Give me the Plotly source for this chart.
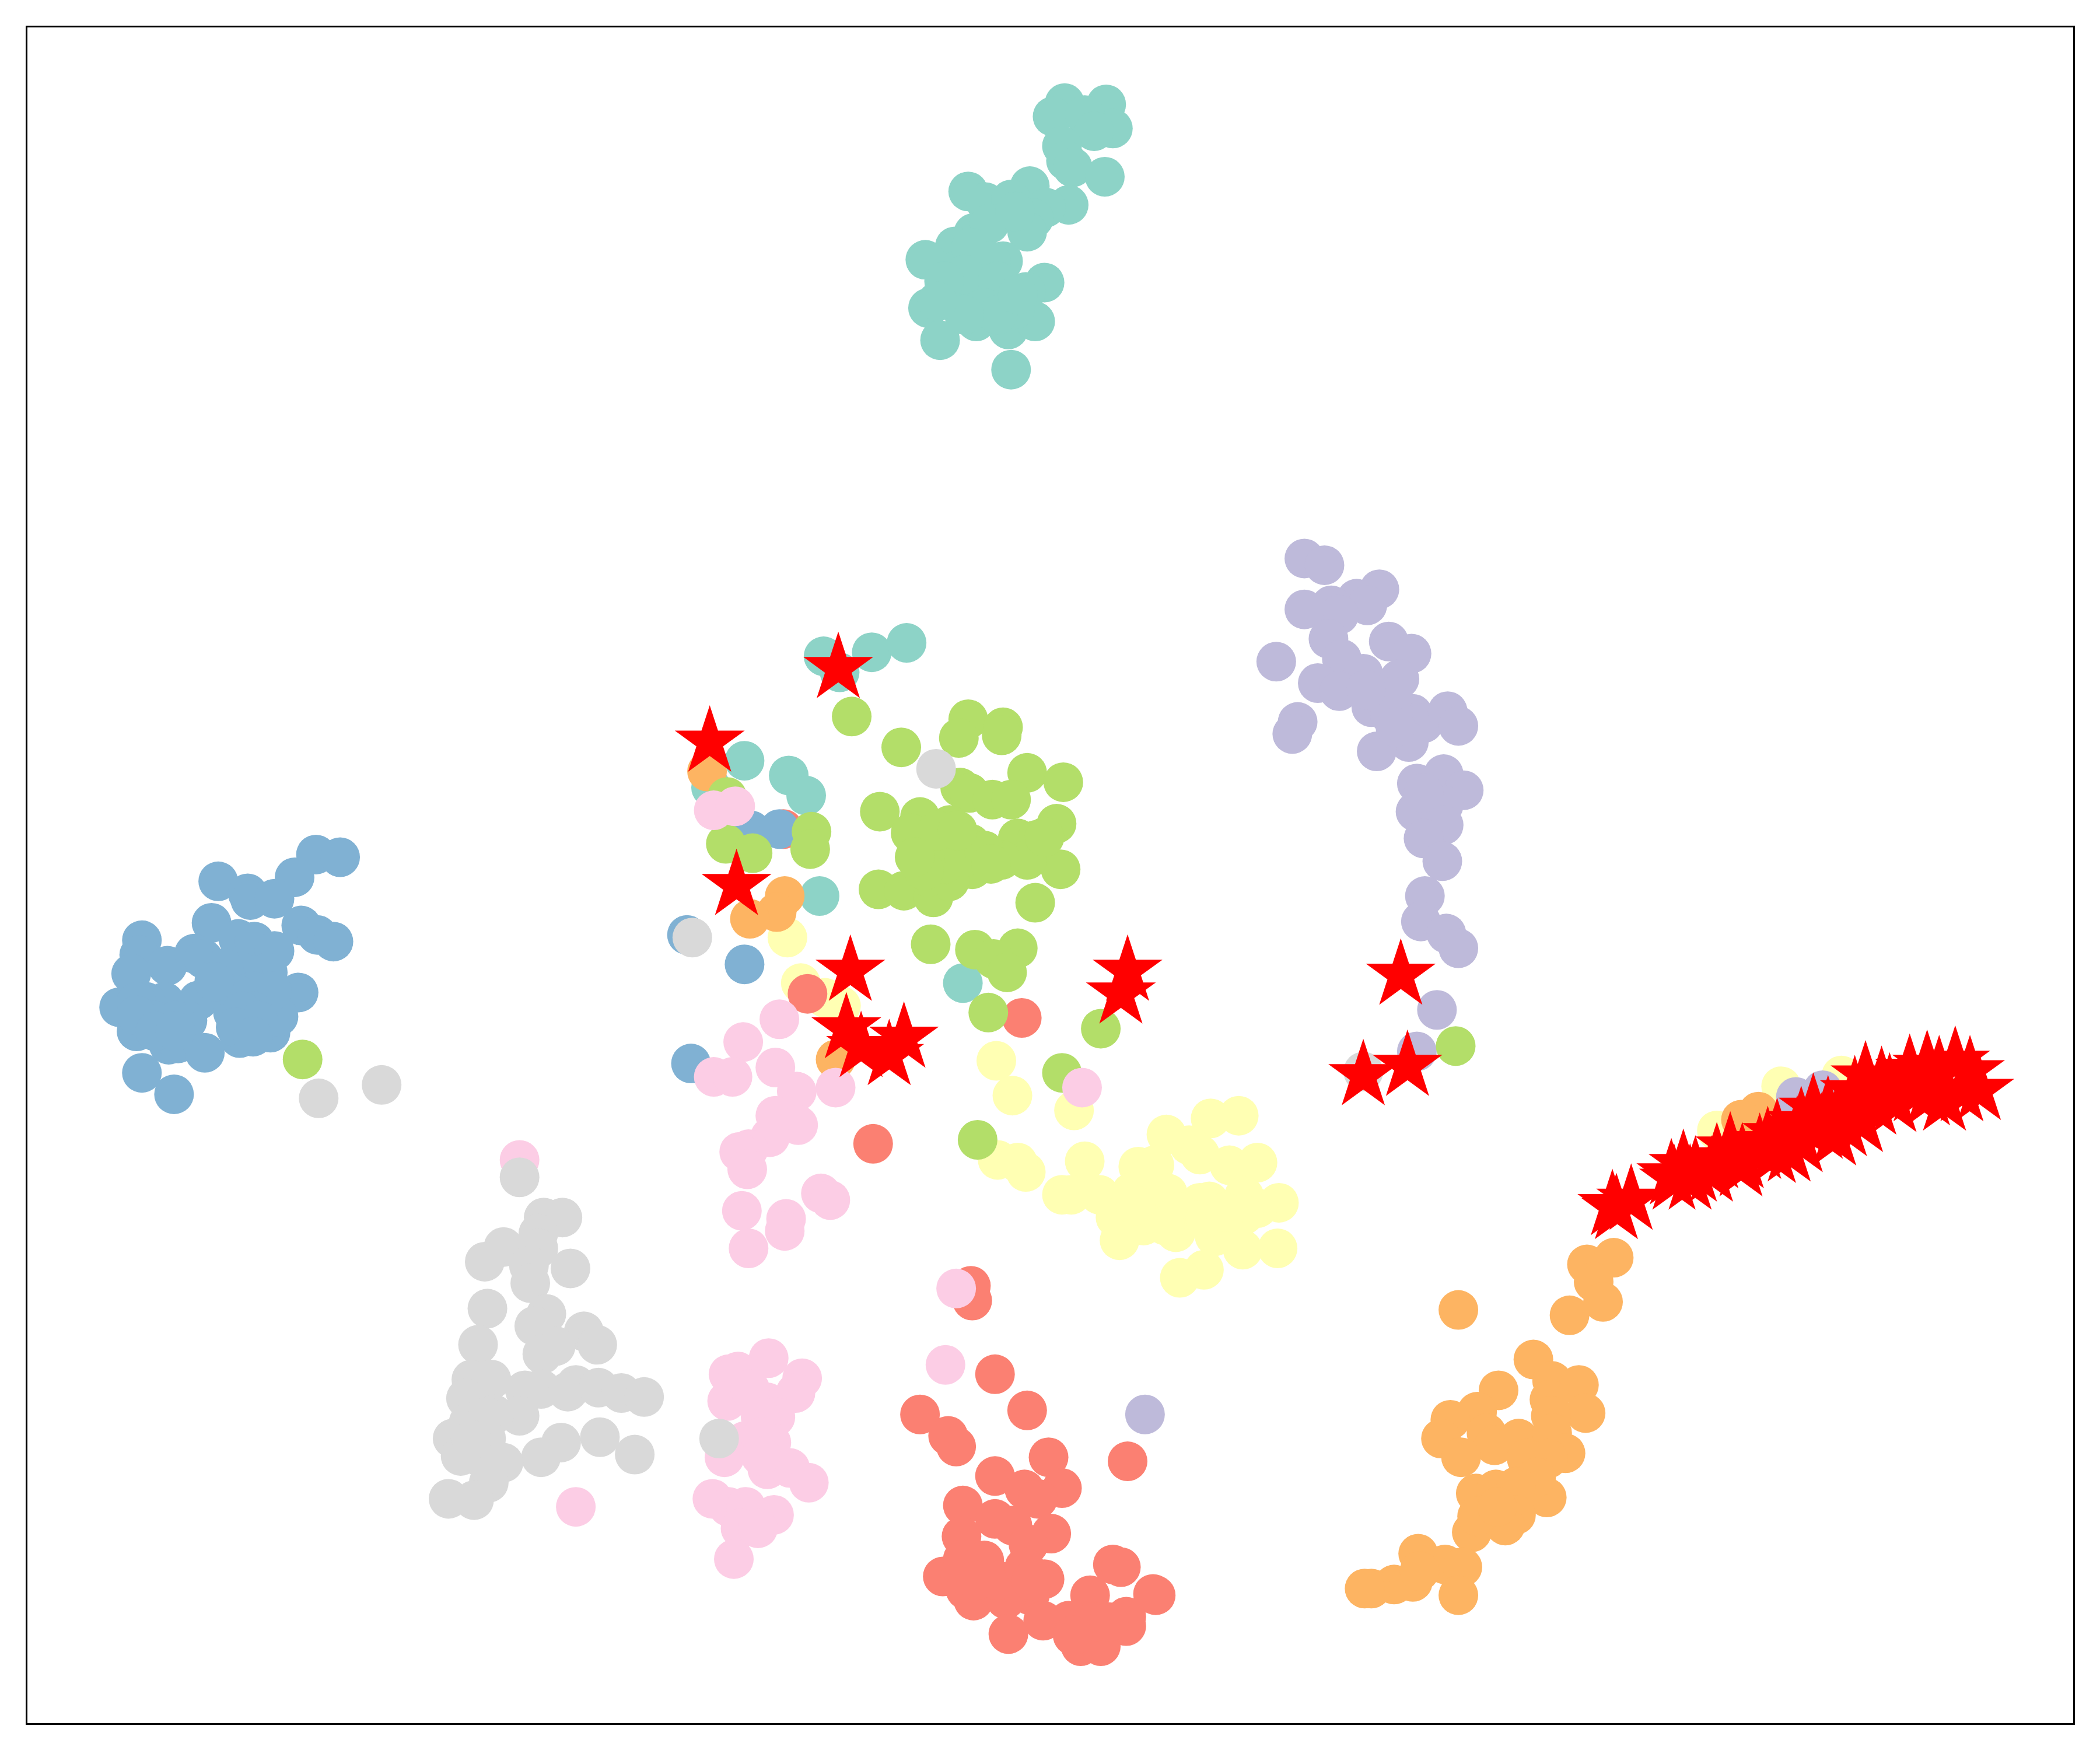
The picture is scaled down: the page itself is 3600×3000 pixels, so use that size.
import plotly.graph_objects as go

# values, in the plot's own data units
teal = [(795,77),(826,78),(786,87),(831,96),(810,86),(817,98),(793,109),(796,120),(801,125),(825,132),(769,139),(798,153),(723,143),(736,151),(755,149),(781,155),(772,163),(767,173),(727,174),(713,184),(691,194),(749,195),(739,167),(758,158),(711,216),(780,211),(766,218),(693,230),(729,240),(753,246),(773,240),(702,254),(755,276),(729,194),(714,202),(736,216),(751,224),(721,224),(758,231),(736,202),(707,224),
        (725,185),(740,195),(720,205),(745,210),(705,210),(735,230),(745,235),(760,220),(720,235),(700,225),
        (615,490),(627,502),(651,487),(677,480),(556,568),(589,579),(602,594),(531,588),(612,669),(719,734)]
yellow = [(802,829),(925,833),(904,835),(871,847),(888,855),(896,862),(918,870),(939,868),(810,867),(850,871),(862,870),(793,892),(800,892),(821,892),(872,891),(845,890),(955,898),(903,897),(896,898),(929,893),(939,902),(929,907),(833,909),(854,915),(862,900),(878,920),(836,926),(907,923),(928,933),(954,932),(899,948),(881,954),(920,919),(848,900),(766,875),(745,866),(760,868),
          (880,905),(900,910),(915,905),(870,915),
          (588,700),(598,734),(616,745),(628,751),(744,792),(756,818),(1282,844),(1330,811),(1375,803)]
purple = [(974,417),(989,422),(1030,440),(1013,447),(1021,452),(994,452),(1000,459),(974,455),(992,477),(1037,479),(1054,488),(953,494),(1002,492),(1018,503),(984,510),(1000,516),(1045,507),(1024,528),(1055,533),(1038,534),(1063,540),(1081,531),(1089,542),(1052,554),(1028,561),(969,539),(965,548),(1078,578),(1058,585),(1093,590),(1057,606),(1078,601),(1063,592),(1078,616),(1063,626),(1077,643),(1064,669),(1061,688),(1080,697),(1089,708),(1073,754),(1058,785),(855,1056),(1341,819),(1361,814),
          (1040,520),(1042,543),(1020,515)]
salmon = [(725,960),(726,971),(743,1026),(767,1053),(687,1056),(708,1072),(714,1080),(783,1088),(842,1091),(743,1102),(793,1111),(765,1112),(775,1119),(719,1124),(743,1134),(756,1139),(718,1147),(785,1145),(768,1153),(831,1168),(837,1170),(704,1177),(732,1176),(717,1178),(721,1187),(727,1195),(756,1185),(780,1179),(769,1191),(751,1194),(814,1191),(861,1190),(863,1191),(841,1207),(841,1214),(779,1210),(798,1210),(753,1220),(807,1229),(822,1229),(816,1211),(801,1221),(828,1211),
          (719,1164),(735,1165),(729,1180),(745,1180),(765,1170),(770,1180),
          (585,619),(603,742),(763,760),(652,854)]
blue = [(236,638),(254,640),(220,655),(163,658),(185,667),(187,672),(205,671),(158,689),(225,691),(237,698),(249,703),(178,701),(190,703),(205,710),(106,702),(104,713),(98,727),(125,721),(145,712),(152,716),(223,741),(148,747),(89,752),(102,770),(140,762),(126,780),(133,779),(153,786),(179,775),(202,771),(208,759),(174,756),(106,801),(130,817),(200,726),(181,726),(167,723),(189,740),(203,740),(178,743),(189,755),(123,748),(109,748),(102,748),(116,762),(131,762),(102,758),
        (160,733),(181,755),(193,762),(176,767),(189,774),(116,770),(131,770),
        (513,698),(556,720),(516,794),(561,620),(582,619)]
orange = [(1185,944),(1205,939),(1190,957),(1197,972),(1172,982),(1089,978),(1145,1015),(1159,1031),(1179,1034),(1157,1045),(1184,1055),(1158,1057),(1119,1038),(1103,1054),(1083,1060),(1076,1074),(1110,1070),(1116,1079),(1091,1088),(1134,1074),(1159,1070),(1169,1085),(1156,1089),(1140,1089),(1155,1118),(1147,1103),(1102,1115),(1117,1112),(1132,1110),(1132,1131),(1124,1139),(1099,1144),(1103,1132),(1118,1125),(1059,1160),(1079,1168),(1092,1170),(1089,1191),(1055,1181),(1041,1183),(1024,1186),(1019,1186),(1060,1173),
          (528,576),(586,669),(580,681),(560,686),(624,791),(1313,830),(1300,836)]
green = [(636,535),(673,558),(723,537),(716,551),(749,543),(748,549),(767,577),(794,584),(543,595),(717,588),(724,592),(741,597),(755,597),(657,606),(687,610),(789,615),(606,621),(605,634),(542,630),(562,637),(760,626),(774,627),(792,649),(767,642),(748,642),(726,649),(725,630),(709,616),(680,622),(693,638),(656,664),(675,665),(697,670),(709,658),(693,655),(773,674),(695,705),(728,709),(760,708),(742,716),(752,726),(738,756),(822,768),(793,801),(730,851),(226,791),(1087,781),(700,630),(715,635),(705,645),(690,650),(720,640),(700,620),
         (683,640),(735,635),(715,620),(740,645),(780,625)]
pink = [(533,605),(549,602),(582,761),(555,778),(533,804),(547,804),(579,797),(595,815),(624,812),(579,833),(596,840),(575,849),(559,858),(552,860),(808,812),(558,873),(554,904),(587,910),(586,919),(559,932),(613,891),(620,896),
        (388,866),(714,962),(706,1019),(430,1125),(574,1014),(599,1029),(544,1026),(551,1024),(543,1046),(594,1040),(573,1047),(560,1037),(579,1058),(568,1058),(576,1077),(556,1076),(541,1088),(573,1097),(590,1096),(604,1107),(532,1119),(544,1125),(557,1125),(578,1131),(553,1141),(566,1141),(548,1164),(568,1073),(568,1087)]
grey = [(699,574),(517,700),(238,820),(285,810),(388,879),(1018,800),(537,1074),
        (406,909),(420,909),(402,921),(376,931),(362,942),(402,932),(395,945),(426,947),(396,958),(364,977),(408,981),(399,990),(436,994),(446,1004),(357,1004),(415,1005),(405,1011),(352,1030),(367,1030),(348,1044),(392,1038),(404,1037),(430,1034),(424,1039),(447,1036),(464,1040),(481,1043),(388,1057),(369,1056),(338,1074),(350,1062),(364,1058),(363,1074),(419,1077),(448,1073),(474,1086),(404,1088),(344,1087),(376,1092),(365,1107),(335,1119),(354,1120),(357,1087),(352,1075)]
stars = [(626,499),(530,554),(550,661),(635,725),(842,725),(837,742),(632,768),(675,775),(664,788),(643,782),(1046,728),(1051,796),(1018,803),
         (1204,900),(1207,903),(1218,896),(1248,877),(1257,870),(1266,875),(1282,865),(1292,857),(1301,865),(1314,858),(1327,847),(1336,860),(1342,845),(1354,828),(1372,835),(1384,831),(1393,804),(1411,813),(1426,799),(1439,796),(1448,800),(1460,793),(1471,800),(1478,814),(1278,875),(1325,861),(1452,822),(1400,825),(1430,815),(1378,841),(1360,843),(1320,853),
         (1440,818),(1465,815),(1415,823),(1390,838),(1370,848),(1345,853),(1300,871),(1250,881),(1262,881),(1345,838),(1365,830),(1385,815),(1405,808),(1425,810)]

groups = [(teal,"#8dd3c7"),(yellow,"#ffffb3"),(purple,"#bebada"),(salmon,"#fb8072"),(blue,"#80b1d3"),
          (orange,"#fdb462"),(green,"#b3de69"),(pink,"#fccde5"),(grey,"#d9d9d9")]

fig = go.Figure()
for pts, col in groups:
    fig.add_trace(go.Scatter(x=[p[0] for p in pts], y=[p[1] for p in pts], mode="markers",
                             marker=dict(color=col, size=68, symbol="circle", line=dict(width=0))))
fig.add_trace(go.Scatter(x=[p[0] for p in stars], y=[p[1] for p in stars], mode="markers",
                         marker=dict(color="#ff0000", size=90, symbol="star", line=dict(width=0))))
ax = dict(showgrid=False, zeroline=False, showticklabels=False, ticks="", mirror=True,
          showline=True, linecolor="black", linewidth=3.33)
fig.update_layout(width=3600, height=3000, showlegend=False, plot_bgcolor="white", paper_bgcolor="white",
                  margin=dict(l=39.2, r=54.2, t=39.2, b=54.2),
                  xaxis=dict(range=[20.52, 1548.05], **ax), yaxis=dict(range=[1286.5, 20.52], **ax))
fig.write_html("out.html")
